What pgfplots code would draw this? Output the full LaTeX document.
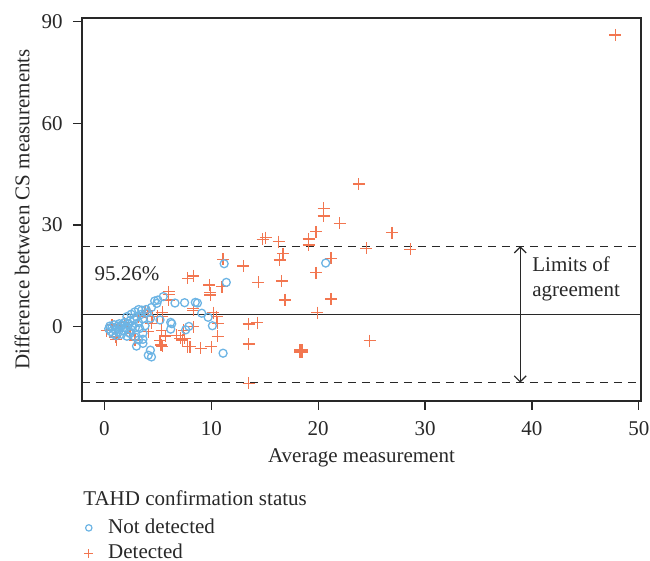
\documentclass[border=0pt]{standalone}
\usepackage{pgfplots}
\pgfplotsset{compat=1.18}
\usepackage{fontspec}
\setmainfont{Liberation Serif}
\usetikzlibrary{arrows.meta}

\definecolor{ndblue}{RGB}{108,180,228}
\definecolor{dorange}{RGB}{242,118,80}
\definecolor{txt}{RGB}{40,40,40}

% not detected (circles)
\pgfplotstableread{
x y
0.4 -0.6
0.5 0.2
0.6 -1.4
0.7 -0.1
0.8 -2.1
0.9 0.6
1.0 -1.0
1.1 -2.6
1.2 0.1
1.3 -1.6
1.4 0.9
1.5 -0.4
1.6 -2.2
1.6 0.5
1.7 0.5
1.8 -1.2
1.9 1.3
2.0 -0.3
2.1 -2.8
2.2 0.8
2.3 -1.7
2.4 1.8
2.5 -0.8
2.6 0.3
2.8 2.2
2.9 -0.2
3.0 2.9
3.2 1.2
3.3 -0.5
3.4 3.6
3.6 2.3
3.8 0.3
4.0 4.1
4.3 2.5
2.1 3.0
2.5 3.7
2.85 4.4
3.2 5.1
3.5 4.9
3.9 5.1
4.4 5.7
4.9 6.9
5.0 7.9
5.5 8.9
4.7 7.6
6.6 7.0
7.5 7.1
8.5 7.2
8.7 7.0
5.2 2.0
6.2 1.3
6.3 0.9
6.2 -0.7
7.6 -0.9
7.9 0.1
9.1 4.0
9.7 2.8
10.1 0.3
2.4 -2.0
2.85 -3.0
3.2 -3.9
3.6 -3.7
3.6 -1.9
3.0 -5.7
3.6 -4.9
4.3 -6.9
4.1 -8.4
4.4 -8.9
11.1 -7.8
11.2 18.6
11.4 13.1
20.7 18.8
}\notdetected

% detected (plus)
\pgfplotstableread{
x y
0.2 -1.2
0.7 0.5
1.0 -3.0
1.1 -3.8
1.6 0.2
1.9 1.2
2.4 -2.0
2.85 -3.9
3.2 3.0
3.8 4.3
4.1 4.8
4.0 3.0
4.5 3.0
5.0 3.1
5.4 3.0
4.4 1.0
4.1 -1.5
5.35 -1.0
5.3 -5.4
5.2 -4.1
5.4 -5.8
5.7 -2.7
6.0 10.3
6.0 9.5
6.0 7.9
5.4 4.3
6.75 -2.5
7.1 -3.4
7.3 -3.9
7.5 -3.4
7.4 -1.0
7.8 -5.9
8.0 -5.9
8.3 0.0
8.3 4.9
8.3 5.4
7.8 14.3
8.3 15.0
9.0 -6.4
9.8 12.3
9.9 10.0
9.9 9.4
10.0 -5.9
10.2 4.2
10.5 3.0
10.6 1.0
10.6 -2.8
11.0 11.8
11.1 19.9
13.0 17.9
13.5 0.8
13.5 -5.1
13.5 -16.7
14.3 1.2
14.4 13.1
14.8 25.8
15.1 26.3
16.3 25.1
16.4 19.7
16.6 13.5
16.7 21.5
16.9 7.9
19.1 25.9
19.1 24.1
19.8 28.0
19.8 15.9
19.9 4.2
20.5 34.9
20.5 32.7
21.2 20.2
21.2 8.2
22.0 30.5
23.8 42.1
24.5 23.1
24.8 -4.1
26.9 27.7
28.6 22.9
47.8 86.1
}\detected

\begin{document}
\fontsize{10.5}{12.5}\selectfont
\begin{tikzpicture}
\begin{axis}[
  width=279.5pt, height=191.5pt, scale only axis,
  xmin=-2.1, xmax=50.2, ymin=-21.9, ymax=91.1,
  xtick={0,10,20,30,40,50}, ytick={0,30,60,90},
  tick pos=left, tick align=outside, major tick length=4.5pt,
  axis line style={line width=0.6pt, txt},
  every tick/.style={line width=0.6pt, txt},
  /pgf/number format/assume math mode=true,
  ticklabel style={font=\fontsize{10.5}{12.5}\selectfont, text=txt},
  yticklabel style={xshift=-1.5pt},
  xticklabel style={yshift=-2pt},
  xlabel={Average measurement},
  ylabel={Difference between CS measurements},
  label style={font=\fontsize{10.5}{12.5}\selectfont, text=txt},
  xlabel style={at={([yshift=-28.5pt]axis description cs:0.5,0)}, anchor=center},
  ylabel style={at={([xshift=-30pt]axis description cs:0,0.5)}, anchor=center},
  legend style={at={([xshift=1pt,yshift=-57.5pt]axis description cs:0,0)},
    anchor=north west, draw=none, fill=none, inner sep=0pt,
    row sep=1.3pt, column sep=7pt, font=\fontsize{10.5}{12.5}\selectfont, text=txt,
    nodes={inner sep=0.5pt, text height=8pt, text depth=2.5pt}},
  legend cell align=left,
  legend image code/.code={\draw[#1] plot coordinates {(1.5pt,0pt)};},
  clip=false,
]
\addplot[only marks, mark=+, mark size=3pt, mark options={dorange, line width=0.6pt}, forget plot] table {\detected};
\addplot[only marks, mark=o, mark size=2pt, mark options={ndblue, line width=0.65pt}, forget plot] table {\notdetected};
\addplot[only marks, mark=+, mark size=3.4pt, mark options={dorange, line width=2.2pt}, forget plot] coordinates {(18.4,-7.1)};

\addplot[txt, line width=0.6pt, dash pattern=on 4pt off 3pt, forget plot] coordinates {(-2.1,23.8) (50.2,23.8)};
\addplot[txt, line width=0.6pt, forget plot] coordinates {(-2.1,3.65) (50.2,3.65)};
\addplot[txt, line width=0.6pt, dash pattern=on 4pt off 3pt, forget plot] coordinates {(-2.1,-16.5) (50.2,-16.5)};
\addplot[txt, line width=0.6pt, {Straight Barb[length=3pt,width=6pt]}-{Straight Barb[length=3pt,width=6pt]}, forget plot] coordinates {(38.9,23.8) (38.9,-16.5)};

\addlegendimage{only marks, mark=o, mark size=1.6pt, mark options={ndblue, line width=0.6pt}}
\addlegendentry{Not detected}
\addlegendimage{only marks, mark=+, mark size=2.2pt, mark options={dorange, line width=0.55pt}}
\addlegendentry{Detected}

\node[text=txt] at (axis cs:2.1,15.8) {95.26\%};
\node[text=txt, anchor=west, align=left, inner sep=0pt] at (axis cs:40.0,14.1) {Limits of\\agreement};
\node[text=txt, anchor=west, inner sep=0pt] at ([xshift=0.5pt,yshift=-48.5pt]axis description cs:0,0) {TAHD confirmation status};

\coordinate (sw) at (axis description cs:0,0);
\coordinate (ne) at (axis description cs:1,1);
\end{axis}
\pgfresetboundingbox
\path ([shift={(-41pt,-80pt)}]sw) rectangle ([shift={(4.5pt,9pt)}]ne);
\end{tikzpicture}
\end{document}
